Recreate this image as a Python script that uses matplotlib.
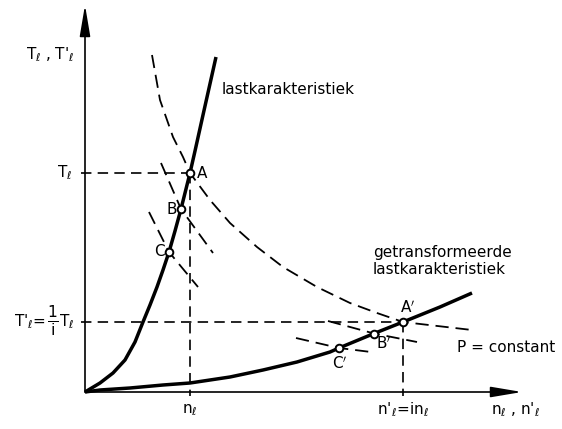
import matplotlib.pyplot as plt

plt.rcParams["font.family"] = ["DejaVu Sans"]
plt.rcParams["mathtext.fontset"] = "dejavusans"
plt.rcParams["lines.scale_dashes"] = False

# load characteristic T(n)
load_n = [0, 15, 28, 40, 50, 58, 65, 72, 78, 84, 90, 96, 105, 110, 118, 131]
load_T = [0, 9, 19, 32, 50, 70, 87, 105, 122, 140, 161, 183, 219, 241, 277, 335]

# transformed load characteristic T'(n')
trans_n = [0, 15, 45, 78, 105, 145, 178, 212, 245, 254, 289, 318, 355, 387]
trans_T = [0, 2, 4, 7, 9, 15, 22, 30, 40, 44, 58.5, 70, 85, 99]

# P = constant through A and A'
hyp_n = [67, 75, 88, 98, 105, 125, 145, 172, 198, 232, 265, 292, 318, 387]
hyp_T = [337, 292, 255, 235, 219, 192, 169, 145, 125, 105, 89, 79, 70, 62]

# short P = constant pieces through B, C, B', C'
pieces = {
    "B": ([76, 96, 128], [229, 183, 139]),
    "C": ([64, 84, 113], [180, 140, 105]),
    "B'": ([243, 289, 332], [71, 58.5, 50]),
    "C'": ([211, 254, 286], [54, 44, 40]),
}

# operating points
points = {"A": (105, 219), "B": (96, 183), "C": (84, 140),
          "A'": (318, 70), "B'": (289, 58.5), "C'": (254, 44)}
n_l, T_l = points["A"]
n_lp, T_lp = points["A'"]

fig = plt.figure(figsize=(5.62, 4.29), dpi=100)
ax = fig.add_axes([0, 0, 1, 1])
ax.set_xlim(-85, 477)
ax.set_ylim(-37, 392)
ax.axis("off")

# axes with arrow heads
arrow = dict(arrowstyle="-|>,head_length=19,head_width=3.2", mutation_scale=1,
             lw=1.2, color="black", shrinkA=0, shrinkB=0)
ax.annotate("", xy=(0, 387), xytext=(0, 0), arrowprops=arrow)
ax.annotate("", xy=(437, 0), xytext=(0, 0), arrowprops=arrow)

dash = dict(color="black", lw=1.2, dashes=(7.5, 4.5))
ax.plot([-4, n_l], [T_l, T_l], **dash)
ax.plot([n_l, n_l], [T_l, -4], **dash)
ax.plot([-4, n_lp], [T_lp, T_lp], **dash)
ax.plot([n_lp, n_lp], [T_lp, -4], **dash)

ax.plot(hyp_n, hyp_T, color="black", lw=1.3, dashes=(9.5, 5))
for xs, ys in pieces.values():
    ax.plot(xs, ys, color="black", lw=1.3, dashes=(9.5, 5))

curve = dict(color="black", lw=2.5, solid_capstyle="butt", solid_joinstyle="round")
ax.plot(load_n, load_T, **curve)
ax.plot(trans_n, trans_T, **curve)

for x, y in points.values():
    ax.plot(x, y, "o", ms=5.5, mfc="white", mec="black", mew=1.4, zorder=5)

fs = 11
ax.text(n_l + 7, T_l, "A", fontsize=fs, ha="left", va="center")
ax.text(points["B"][0] - 4, points["B"][1], "B", fontsize=fs, ha="right", va="center")
ax.text(points["C"][0] - 4, points["C"][1], "C", fontsize=fs, ha="right", va="center")
ax.text(n_lp + 5, T_lp + 6, "A$'$", fontsize=fs, ha="center", va="bottom")
ax.text(points["B'"][0] + 2, points["B'"][1] - 10, "B$'$", fontsize=fs, ha="left", va="center")
ax.text(points["C'"][0] + 1, points["C'"][1] - 7, "C$'$", fontsize=fs, ha="center", va="top")

ax.text(137, 303, "lastkarakteristiek", fontsize=fs, ha="left", va="center")
ax.text(288, 131, "getransformeerde\nlastkarakteristiek", fontsize=fs,
        ha="left", va="center", linespacing=1.2)
ax.text(372, 44, "P = constant", fontsize=fs, ha="left", va="center")

ax.text(-35, 337, r"T$_\ell$ , T$'_\ell$", fontsize=fs, ha="center", va="center")
ax.text(-13, T_l, r"T$_\ell$", fontsize=fs, ha="right", va="center")

# T'_l = (1/i) T_l, built from three pieces so the fraction reads at text size
ax.text(-39, T_lp, r"T$'_\ell$=", fontsize=fs, ha="right", va="center")
ax.text(-32, T_lp + 1, r"$\frac{1}{\mathregular{i}}$", fontsize=16, ha="center", va="center")
ax.text(-26, T_lp, r"T$_\ell$", fontsize=fs, ha="left", va="center")

ax.text(n_l, -18, r"n$_\ell$", fontsize=fs, ha="center", va="center")
ax.text(n_lp, -18, r"n$'_\ell\!=\!$in$_\ell$", fontsize=fs, ha="center", va="center")
ax.text(430, -18, r"n$_\ell$ , n$'_\ell$", fontsize=fs, ha="center", va="center")

fig.savefig("out.png", dpi=100, facecolor="white")
